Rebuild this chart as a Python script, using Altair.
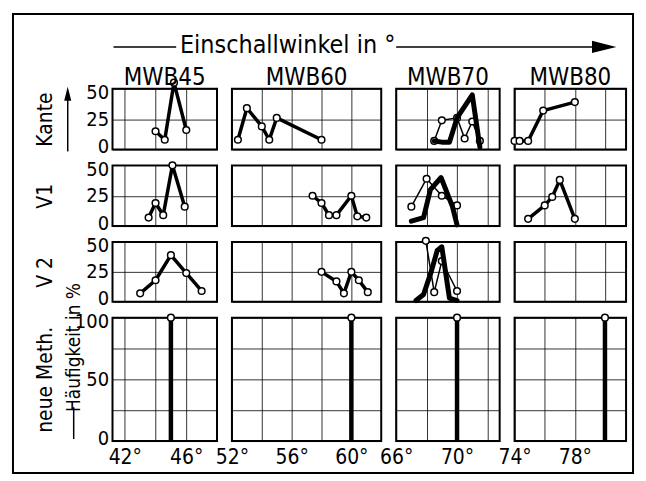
import altair as alt
import pandas as pd

FONT = "DejaVu Sans Condensed, Liberation Sans Narrow, Liberation Sans, sans-serif"

# ---------------- data ----------------
columns = ["MWB45", "MWB60", "MWB70", "MWB80"]
rows = ["Kante", "V1", "V 2", "neue Meth."]

x_domains = {"MWB45": [41.2, 48], "MWB60": [52, 62], "MWB70": [66, 72.8], "MWB80": [74, 81.4]}
x_grid = {"MWB45": [42, 44, 46], "MWB60": [52, 54, 56, 58, 60],
          "MWB70": [66, 68, 70, 72], "MWB80": [74, 76, 78, 80]}
x_labels = {"MWB45": [42, 46], "MWB60": [52, 56, 60], "MWB70": [66, 70], "MWB80": [74, 78]}
col_widths = [105, 150, 104, 112]
row_heights = [61, 61, 60, 124]

# Kante
kante_45_x = [44.0, 44.6, 45.2, 46.0]
kante_45_y = [15, 8, 55, 16]
kante_60_x = [52.4, 53.0, 54.0, 54.5, 55.0, 58.0]
kante_60_y = [8, 34, 19, 8, 26, 8]
kante_70_thin_x = [68.5, 69.0, 70.0, 70.5, 71.0, 71.5]
kante_70_thin_y = [7, 24, 26, 9, 23, 7]
kante_70_thick_x = [68.5, 69.0, 69.5, 70.0, 71.0, 71.5]
kante_70_thick_y = [7, 6, 6, 26, 45, 2]
kante_80_x = [74.0, 74.33, 74.9, 75.9, 78.0]
kante_80_y = [7, 7, 7, 32, 39]

# V1
v1_45_x = [43.55, 44.0, 44.5, 45.1, 45.9]
v1_45_y = [7, 19, 9, 50, 16]
v1_60_x = [57.4, 58.0, 58.5, 59.0, 60.0, 60.4, 61.0]
v1_60_y = [25, 19, 9, 9, 25, 8, 7]
v1_70_thin_x = [67.0, 68.0, 69.0, 70.0]
v1_70_thin_y = [16, 39, 25, 17]
v1_70_thick_x = [67.0, 67.8, 68.25, 68.95, 69.7, 70.0]
v1_70_thick_y = [4, 7, 30, 40, 16, 1]
v1_80_x = [74.9, 76.0, 76.5, 77.0, 78.0]
v1_80_y = [6, 17, 24, 38, 6]

# V2
v2_45_x = [43.0, 44.0, 45.0, 46.0, 47.0]
v2_45_y = [7, 18, 39, 24, 9]
v2_60_x = [58.0, 59.0, 59.5, 60.0, 60.5, 61.1]
v2_60_y = [25, 17, 7, 25, 18, 8]
v2_70_thin_x = [67.95, 68.5, 69.0, 70.0]
v2_70_thin_y = [51, 8, 34, 9]
v2_70_thick_x = [67.3, 67.8, 68.3, 68.7, 69.0, 69.5, 70.0]
v2_70_thick_y = [1, 6, 25, 43, 46, 3, 1]

# neue Methode
neue_x = [45, 60, 70, 80]
neue_y = [100, 100, 100, 100]

series = {
    ("Kante", "MWB45"): [(kante_45_x, kante_45_y, "single")],
    ("Kante", "MWB60"): [(kante_60_x, kante_60_y, "single")],
    ("Kante", "MWB70"): [(kante_70_thin_x, kante_70_thin_y, "thin"),
                         (kante_70_thick_x, kante_70_thick_y, "thick")],
    ("Kante", "MWB80"): [(kante_80_x, kante_80_y, "single")],
    ("V1", "MWB45"): [(v1_45_x, v1_45_y, "single")],
    ("V1", "MWB60"): [(v1_60_x, v1_60_y, "single")],
    ("V1", "MWB70"): [(v1_70_thin_x, v1_70_thin_y, "thin"),
                      (v1_70_thick_x, v1_70_thick_y, "thick")],
    ("V1", "MWB80"): [(v1_80_x, v1_80_y, "single")],
    ("V 2", "MWB45"): [(v2_45_x, v2_45_y, "single")],
    ("V 2", "MWB60"): [(v2_60_x, v2_60_y, "single")],
    ("V 2", "MWB70"): [(v2_70_thin_x, v2_70_thin_y, "thin"),
                       (v2_70_thick_x, v2_70_thick_y, "thick")],
    ("V 2", "MWB80"): [],
}

TICK_FS = 20

# ---------------- helpers ----------------
def x_axis(col, last_row):
    if last_row:
        lab = x_labels[col]
        expr = "indexof([" + ",".join(str(v) for v in lab) + "], datum.value) >= 0 ? datum.value + '°' : ''"
        return alt.Axis(values=x_grid[col], grid=True, labels=True, labelExpr=expr,
                        labelFont=FONT, labelFontSize=21, labelColor="black",
                        labelFlush=False, labelPadding=6, labelOverlap=False,
                        ticks=False, domain=False, title=None)
    return alt.Axis(values=x_grid[col], grid=True, labels=False, ticks=False,
                    domain=False, title=None)


def y_axis(row, first_col, height):
    if row == "neue Meth.":
        vals = [0, 25, 50, 75, 100]
        expr = "datum.value % 50 == 0 ? '' + datum.value : ''"
        top = 100
    else:
        vals = [0, 25, 50]
        expr = "'' + datum.value"
        top = 50
    if first_col:
        return alt.Axis(values=vals, grid=True, labels=True, labelExpr=expr,
                        labelFont=FONT, labelFontSize=TICK_FS, labelColor="black",
                        labelFlush=False, labelPadding=4, labelOverlap=False,
                        labelOffset={"expr": "datum.value == %d ? 4 : (datum.value == 0 ? -3 : 0)" % top},
                        ticks=False, domain=False, title=row,
                        titleFont=FONT, titleFontSize=21, titleFontWeight="normal",
                        titleColor="black", titleAngle=270, titleAlign="center",
                        titleBaseline="middle", titleX=-67, titleY=height / 2)
    return alt.Axis(values=vals, grid=True, labels=False, ticks=False,
                    domain=False, title=None)


def make_panel(ri, ci):
    row, col = rows[ri], columns[ci]
    last_row = ri == len(rows) - 1
    ydom = [0, 100] if last_row else [0, 50]
    xs = alt.X("x:Q", scale=alt.Scale(domain=x_domains[col], nice=False, zero=False),
               axis=x_axis(col, last_row))
    ys = alt.Y("y:Q", scale=alt.Scale(domain=ydom, nice=False, zero=False),
               axis=y_axis(row, ci == 0, row_heights[ri]))
    layers = []
    if last_row:
        i = ci
        df = pd.DataFrame({"x": [neue_x[i]], "y": [neue_y[i]], "y0": [0]})
        layers.append(alt.Chart(df).mark_rule(color="black", strokeWidth=4.5)
                      .encode(x=xs, y=ys, y2="y0:Q"))
        layers.append(alt.Chart(df).mark_point(shape="circle", filled=True, fill="white",
                                               stroke="black", strokeWidth=1.5, size=45, opacity=1)
                      .encode(x=xs, y=ys))
    else:
        sl = series[(row, col)]
        if not sl:
            df = pd.DataFrame({"x": pd.Series([], dtype=float), "y": pd.Series([], dtype=float)})
            layers.append(alt.Chart(df).mark_point(opacity=0).encode(x=xs, y=ys))
        for sx, sy, kind in sl:
            df = pd.DataFrame({"x": sx, "y": sy, "o": list(range(len(sx)))})
            w = {"single": 3.5, "thin": 1.5, "thick": 5}[kind]
            layers.append(alt.Chart(df).mark_line(color="black", strokeWidth=w,
                                                  strokeJoin="round", strokeCap="round")
                          .encode(x=xs, y=ys, order="o:Q"))
            if kind != "thick":
                layers.append(alt.Chart(df).mark_point(shape="circle", filled=True, fill="white",
                                                       stroke="black", strokeWidth=1.5, size=45, opacity=1)
                              .encode(x=xs, y=ys))
    one = pd.DataFrame({"k": [0]})
    if ri == 0:
        layers.append(alt.Chart(one).mark_text(text=col, font=FONT, fontSize=24,
                                               baseline="alphabetic", align="center", color="black")
                      .encode(x=alt.value(col_widths[ci] / 2), y=alt.value(-4)))
    if ri == 0 and ci == 0:
        layers.append(alt.Chart(one).mark_rect(fillOpacity=0, stroke="black", strokeWidth=2)
                      .encode(x=alt.value(-100), x2=alt.value(523), y=alt.value(-75), y2=alt.value(386)))
        layers.append(alt.Chart(one).mark_text(text="Einschallwinkel in °", font=FONT, fontSize=25,
                                               baseline="alphabetic", align="center", color="black")
                      .encode(x=alt.value(176), y=alt.value(-36)))
        layers.append(alt.Chart(one).mark_rule(color="black", strokeWidth=1.5)
                      .encode(x=alt.value(1), x2=alt.value(64), y=alt.value(-42)))
        layers.append(alt.Chart(one).mark_rule(color="black", strokeWidth=1.5)
                      .encode(x=alt.value(285), x2=alt.value(485), y=alt.value(-42)))
        layers.append(alt.Chart(one).mark_point(shape="M-1,-0.5L1,0L-1,0.5Z", filled=True,
                                                color="black", size=600, opacity=1)
                      .encode(x=alt.value(494), y=alt.value(-42)))
        layers.append(alt.Chart(one).mark_rule(color="black", strokeWidth=1.5)
                      .encode(x=alt.value(-45), y=alt.value(8), y2=alt.value(63)))
        layers.append(alt.Chart(one).mark_point(shape="M0,-1L0.5,1L-0.5,1Z", filled=True,
                                                color="black", size=200, opacity=1)
                      .encode(x=alt.value(-45), y=alt.value(5)))
    if ri == 3 and ci == 0:
        layers.append(alt.Chart(one).mark_text(text="Häufigkeit in %", font=FONT, fontSize=19,
                                               angle=270, baseline="middle", align="center", color="black")
                      .encode(x=alt.value(-39), y=alt.value(30)))
        layers.append(alt.Chart(one).mark_rule(color="black", strokeWidth=1.5)
                      .encode(x=alt.value(-39), y=alt.value(90), y2=alt.value(122)))
    ch = alt.layer(*layers).properties(width=col_widths[ci], height=row_heights[ri])
    return ch


panels = [make_panel(ri, ci) for ri in range(4) for ci in range(4)]

chart = alt.concat(*panels, columns=4, spacing={"row": 16, "column": 15},
                   bounds="flush", align="each").properties(
    padding={"left": 3, "top": 3, "right": 3, "bottom": 3},
    background="white",
).configure_view(stroke="black", strokeWidth=2).configure_axis(
    gridColor="black", gridWidth=1, gridOpacity=0.8
)

chart.save("out.html", embed_options={"renderer": "svg", "actions": False})
